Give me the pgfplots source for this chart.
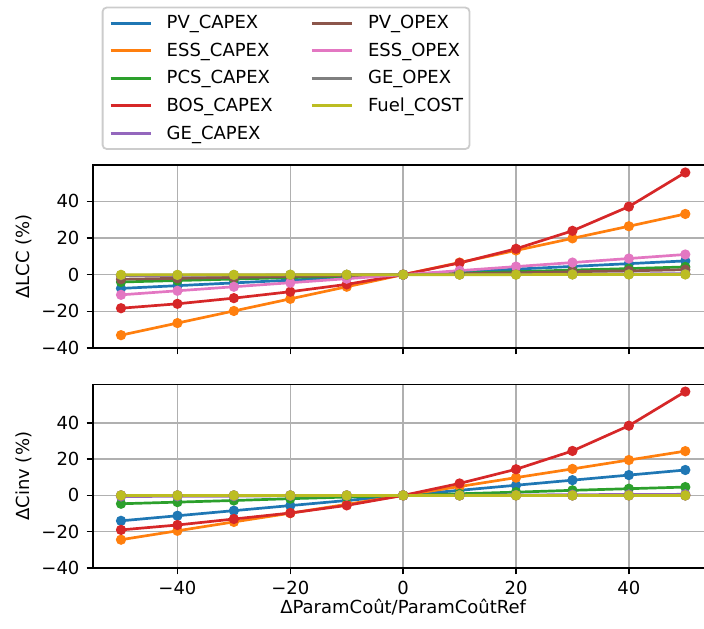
\documentclass[border=0pt]{standalone}
\usepackage{fontspec}
\setmainfont{DejaVu Sans}
\usepackage{pgfplots}
\usepackage{pgfplotstable}
\pgfplotsset{compat=1.18}
\definecolor{c0}{HTML}{1F77B4}
\definecolor{c1}{HTML}{FF7F0E}
\definecolor{c2}{HTML}{2CA02C}
\definecolor{c3}{HTML}{D62728}
\definecolor{c4}{HTML}{9467BD}
\definecolor{c5}{HTML}{8C564B}
\definecolor{c6}{HTML}{E377C2}
\definecolor{c7}{HTML}{7F7F7F}
\definecolor{c8}{HTML}{BCBD22}
\definecolor{gridgray}{HTML}{B0B0B0}

\pgfplotstableread{
x   pv    ess    pcs   bos    ge    pvo   esso   geo   fuel
-50 -7.5  -33.0  -4.0  -18.3  -0.5  -2.5  -11.0  -0.3  -0.1
-40 -6.0  -26.4  -3.2  -15.9  -0.4  -2.0  -8.8   -0.2  -0.1
-30 -4.5  -19.8  -2.4  -12.8  -0.3  -1.5  -6.6   -0.2  -0.1
-20 -3.0  -13.2  -1.6  -9.3   -0.2  -1.0  -4.4   -0.1  0.0
-10 -1.5  -6.6   -0.8  -5.3   -0.1  -0.5  -2.2   -0.1  0.0
0   0     0      0     0      0     0     0      0     0
10  1.5   6.6    0.8   6.4    0.1   0.5   2.2    0.1   0.0
20  3.0   13.2   1.6   14.1   0.2   1.0   4.4    0.1   0.0
30  4.5   19.8   2.5   23.9   0.3   1.6   6.6    0.2   0.1
40  6.0   26.4   3.3   37.1   0.4   2.1   8.8    0.2   0.1
50  7.5   33.1   4.2   55.7   0.5   2.7   11.0   0.3   0.1
}\lcc

\pgfplotstableread{
x   pv    ess    pcs   bos    ge    pvo   esso   geo   fuel
-50 -14.0 -24.4  -4.6  -19.0  -0.6  0     0      0     0
-40 -11.2 -19.5  -3.7  -16.3  -0.5  0     0      0     0
-30 -8.4  -14.6  -2.8  -13.0  -0.4  0     0      0     0
-20 -5.6  -9.8   -1.8  -9.7   -0.2  0     0      0     0
-10 -2.8  -4.9   -0.9  -5.5   -0.1  0     0      0     0
0   0     0      0     0      0     0     0      0     0
10  2.8   4.9    0.9   6.6    0.1   0     0      0     0
20  5.6   9.8    1.8   14.4   0.2   0     0      0     0
30  8.4   14.6   2.8   24.5   0.4   0     0      0     0
40  11.2  19.5   3.7   38.4   0.5   0     0      0     0
50  14.0  24.4   4.6   57.2   0.6   0     0      0     0
}\cinv

\pgfplotsset{
  myax/.style={
    scale only axis, width=310.35pt, height=91.5pt,
    xmin=-55, xmax=55, ymin=-40,
    grid=major, grid style={color=gridgray, line width=0.72pt},
    axis line style={line width=0.72pt},
    tick style={black, line width=0.72pt},
    tick align=outside, major tick length=3.15pt,
    xtick pos=bottom, ytick pos=left,
    xtick={-40,-20,0,20,40},
    ytick={-40,-20,0,20,40},
    yticklabels={−40,−20,0,20,40},
    ticklabel style={font=\fontsize{9}{10}\selectfont},
    label style={font=\fontsize{9}{10}\selectfont},
    ylabel style={at={(axis description cs:-0.1115,0.5)}, anchor=center},
    every axis plot/.append style={line width=1.35pt, mark=*, mark size=1.85pt, mark options={solid}},
  },
}

\begin{document}
\begin{tikzpicture}[x=1pt,y=1pt]
\useasboundingbox (0,0) rectangle (352,314);

\begin{axis}[myax, at={(46.4pt,140pt)}, anchor=south west, ymax=59.8,
  xticklabels={},
  ylabel={ΔLCC (\%)},
  legend cell align=left,
  legend columns=2,
  legend image code/.code={\draw[#1, line width=1.5pt, line cap=butt] (0pt,0pt) -- (20pt,0pt);},
  legend style={at={(axis description cs:0.01434,1.865)}, anchor=north west,
    draw=black!20, line width=0.9pt, rounded corners=2pt,
    font=\fontsize{9}{10}\selectfont,
    nodes={inner sep=0pt, text height=7.6pt, text depth=1.9pt},
    inner xsep=3.2pt, inner ysep=3pt,
    row sep=4.3pt, column sep=7.35pt,
    /tikz/every even column/.append style={column sep=18.8pt}},
]
\addlegendimage{c0}\addlegendentry{PV\_CAPEX}
\addlegendimage{c5}\addlegendentry{PV\_OPEX}
\addlegendimage{c1}\addlegendentry{ESS\_CAPEX}
\addlegendimage{c6}\addlegendentry{ESS\_OPEX}
\addlegendimage{c2}\addlegendentry{PCS\_CAPEX}
\addlegendimage{c7}\addlegendentry{GE\_OPEX}
\addlegendimage{c3}\addlegendentry{BOS\_CAPEX}
\addlegendimage{c8}\addlegendentry{Fuel\_COST}
\addlegendimage{c4}\addlegendentry{GE\_CAPEX}
\addplot[c0, forget plot] table[x=x,y=pv] {\lcc};
\addplot[c1, forget plot] table[x=x,y=ess] {\lcc};
\addplot[c2, forget plot] table[x=x,y=pcs] {\lcc};
\addplot[c3, forget plot] table[x=x,y=bos] {\lcc};
\addplot[c4, forget plot] table[x=x,y=ge] {\lcc};
\addplot[c5, forget plot] table[x=x,y=pvo] {\lcc};
\addplot[c6, forget plot] table[x=x,y=esso] {\lcc};
\addplot[c7, forget plot] table[x=x,y=geo] {\lcc};
\addplot[c8, forget plot] table[x=x,y=fuel] {\lcc};
\end{axis}

\begin{axis}[myax, at={(46.4pt,30pt)}, anchor=south west, ymax=61.1, height=91.75pt,
  xticklabels={−40,−20,0,20,40},
  ylabel={ΔCinv (\%)},
  xlabel={ΔParamCoût/ParamCoûtRef},
  xlabel style={at={(axis description cs:0.5,0)}, anchor=center, yshift=-19.5pt},
]
\addplot[c0] table[x=x,y=pv] {\cinv};
\addplot[c1] table[x=x,y=ess] {\cinv};
\addplot[c2] table[x=x,y=pcs] {\cinv};
\addplot[c3] table[x=x,y=bos] {\cinv};
\addplot[c4] table[x=x,y=ge] {\cinv};
\addplot[c5] table[x=x,y=pvo] {\cinv};
\addplot[c6] table[x=x,y=esso] {\cinv};
\addplot[c7] table[x=x,y=geo] {\cinv};
\addplot[c8] table[x=x,y=fuel] {\cinv};
\end{axis}
\end{tikzpicture}
\end{document}
